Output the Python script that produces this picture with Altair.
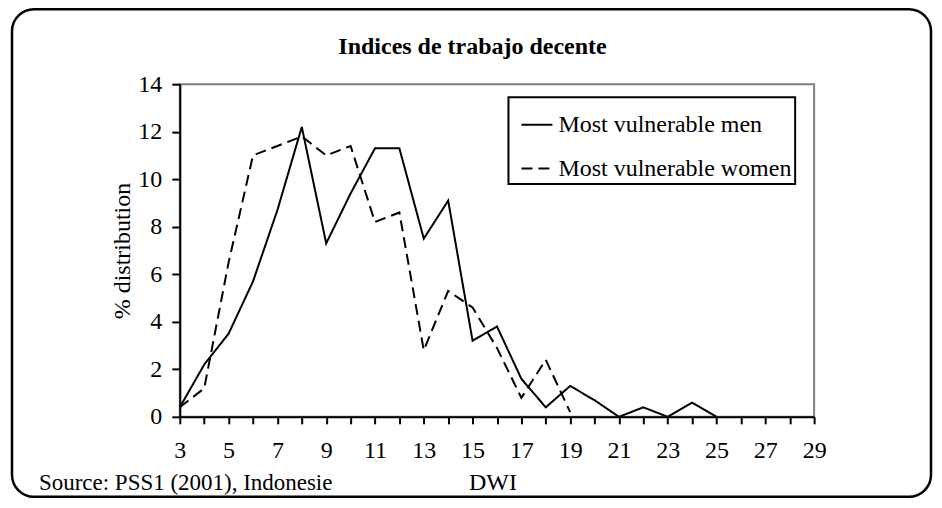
import altair as alt
import pandas as pd

# ---- data ----
dwi_men = list(range(3, 26))
men = [0.4, 2.2, 3.5, 5.7, 8.7, 12.2, 7.3, 9.4, 11.3, 11.3, 7.5, 9.1,
       3.2, 3.8, 1.6, 0.4, 1.3, 0.7, 0.0, 0.4, 0.0, 0.6, 0.0]
dwi_women = list(range(3, 20))
women = [0.4, 1.2, 6.5, 11.0, 11.4, 11.8, 11.0, 11.4, 8.2, 8.6, 2.8,
         5.3, 4.6, 2.9, 0.8, 2.4, 0.2]
series_names = ["Most vulnerable men", "Most vulnerable women"]
x_ticks = list(range(3, 30))
x_tick_labels = list(range(3, 30, 2))
y_ticks = list(range(0, 15, 2))
title_text = "Indices de trabajo decente"
source_text = "Source: PSS1 (2001), Indonesie"
x_title = "DWI"
y_title = "% distribution"

FONT = "Liberation Serif"
FS = 24

df = pd.concat([
    pd.DataFrame({"DWI": dwi_men, "value": men, "series": series_names[0]}),
    pd.DataFrame({"DWI": dwi_women, "value": women, "series": series_names[1]}),
])

one = pd.DataFrame({"a": [0]})

label_list = ",".join(str(v) for v in x_tick_labels)

axis_style = dict(labelFont=FONT, labelFontSize=FS, labelColor="black",
                  titleFont=FONT, titleFontSize=FS, titleColor="black",
                  titleFontWeight="normal", titleBaseline="middle",
                  domainColor="black", domainWidth=2, tickColor="black",
                  tickWidth=2, grid=False)

lines = alt.Chart(df).mark_line(color="black", strokeWidth=2).encode(
    x=alt.X("DWI:Q",
            scale=alt.Scale(domain=[3, 29], nice=False, zero=False),
            axis=alt.Axis(values=x_ticks,
                          labelExpr=f"indexof([{label_list}], datum.value) >= 0 ? datum.label : ''",
                          title=x_title, titleX=313, titleY=66,
                          tickSize=7, labelPadding=15,
                          labelOverlap=False, labelFlush=False, **axis_style)),
    y=alt.Y("value:Q",
            scale=alt.Scale(domain=[0, 14], nice=False),
            axis=alt.Axis(values=y_ticks, title=y_title, titleX=-57, titleY=166.5,
                          tickSize=8, labelPadding=10, **axis_style)),
    strokeDash=alt.StrokeDash("series:N",
                              scale=alt.Scale(domain=series_names, range=[[1, 0], [11, 6]]),
                              legend=alt.Legend(title=" ", orient="none",
                                                legendX=329, legendY=13)),
    order="DWI:Q",
)

frame = alt.Chart(one).mark_rect(fillOpacity=0, stroke="black", strokeWidth=2.5,
                                 cornerRadius=22).encode(
    x=alt.value(-168), x2=alt.value(752), y=alt.value(-75), y2=alt.value(413)
)

title_mark = alt.Chart(one).mark_text(font=FONT, fontSize=FS, fontWeight="bold",
                                      align="center", baseline="middle",
                                      color="black").encode(
    x=alt.value(293), y=alt.value(-37), text=alt.value(title_text)
)

source_mark = alt.Chart(one).mark_text(font=FONT, fontSize=23, align="left",
                                       baseline="middle", color="black").encode(
    x=alt.value(-141), y=alt.value(399), text=alt.value(source_text)
)

chart = alt.layer(frame, lines, title_mark, source_mark).properties(
    width=635, height=333,
    autosize=alt.AutoSizeParams(type="none"),
    padding={"left": 172, "top": 76, "right": 120, "bottom": 83},
).configure_view(
    stroke="#808080", strokeWidth=2
).configure_legend(
    strokeColor="black", strokeWidth=2, fillColor="white", padding=3,
    titleFontSize=7, titlePadding=1,
    symbolType="stroke", symbolSize=961, symbolStrokeWidth=2,
    symbolStrokeColor="black", symbolOffset=9,
    labelFont=FONT, labelFontSize=FS, labelColor="black", labelOffset=5,
    rowPadding=15, labelLimit=400,
)

chart.save("out.html", embed_options={"renderer": "svg", "actions": False})
